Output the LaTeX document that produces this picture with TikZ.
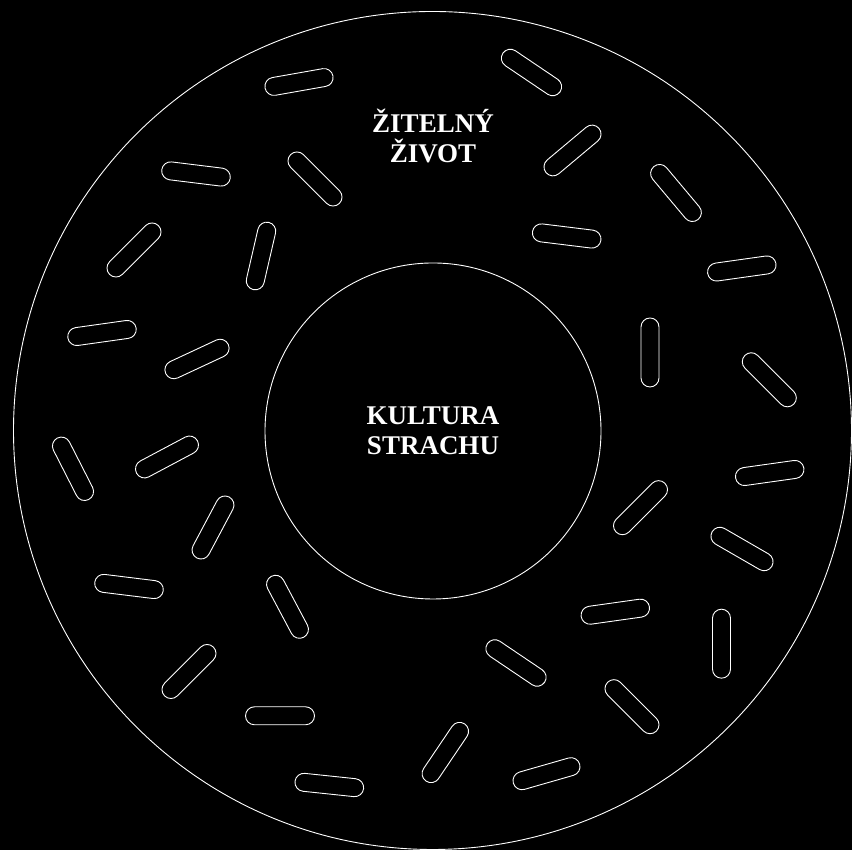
\documentclass[tikz,border=0pt]{standalone}
\usepackage{fontspec}
\setmainfont{Liberation Serif}
\usetikzlibrary{shapes.misc}

\begin{document}
\begin{tikzpicture}[
  x=1pt, y=1pt,
  every node/.style={draw=white, line width=0.9pt, inner sep=0pt},
  kruh/.style={circle},
  posyp/.style={rounded rectangle, minimum width=69pt, minimum height=18pt},
  popis/.style={draw=none, text=white, align=center, font=\fontsize{27}{30}\selectfont\bfseries}
]
\path[use as bounding box, fill=black] (0,0) rectangle (852,850);
\node[kruh, minimum size=838pt] (kobliha) at (432.5,419.5) {};
\node[kruh, minimum size=336pt] (dira) at (433,419) {};
\node[popis] (strach) at (dira.center) {KULTURA\\STRACHU};
\node[popis] (zivot) at (433,714.5) {ŽITELNÝ\\ŽIVOT};
% posypka
\foreach \x/\y/\a [count=\i] in {
  299/768/10, 196/676/-7, 315/671/-45, 134/600/45, 261/594/77,
  102/517/8, 197/491/25, 531.5/777.5/-34, 572.5/699.5/40, 676/657/-50,
  566.7/614/-7, 741.8/581.5/8, 650/497.5/90, 769.3/470.2/-45,
  73/381.2/-63, 167/393/28, 213/322.5/62, 129/263.5/-7, 287.5/243.2/-62,
  189/178.5/45, 280/134.2/0, 329.3/65/-6,
  769.7/377/8, 640.5/342.3/45, 742/301/-30, 615.3/238.3/8, 721.5/206.3/90,
  516/187/-34, 632/143.3/-45, 445.3/97.5/56, 546.5/76.3/16}
  \node[posyp, rotate=\a] (s\i) at (\x,\y) {};
\end{tikzpicture}
\end{document}
